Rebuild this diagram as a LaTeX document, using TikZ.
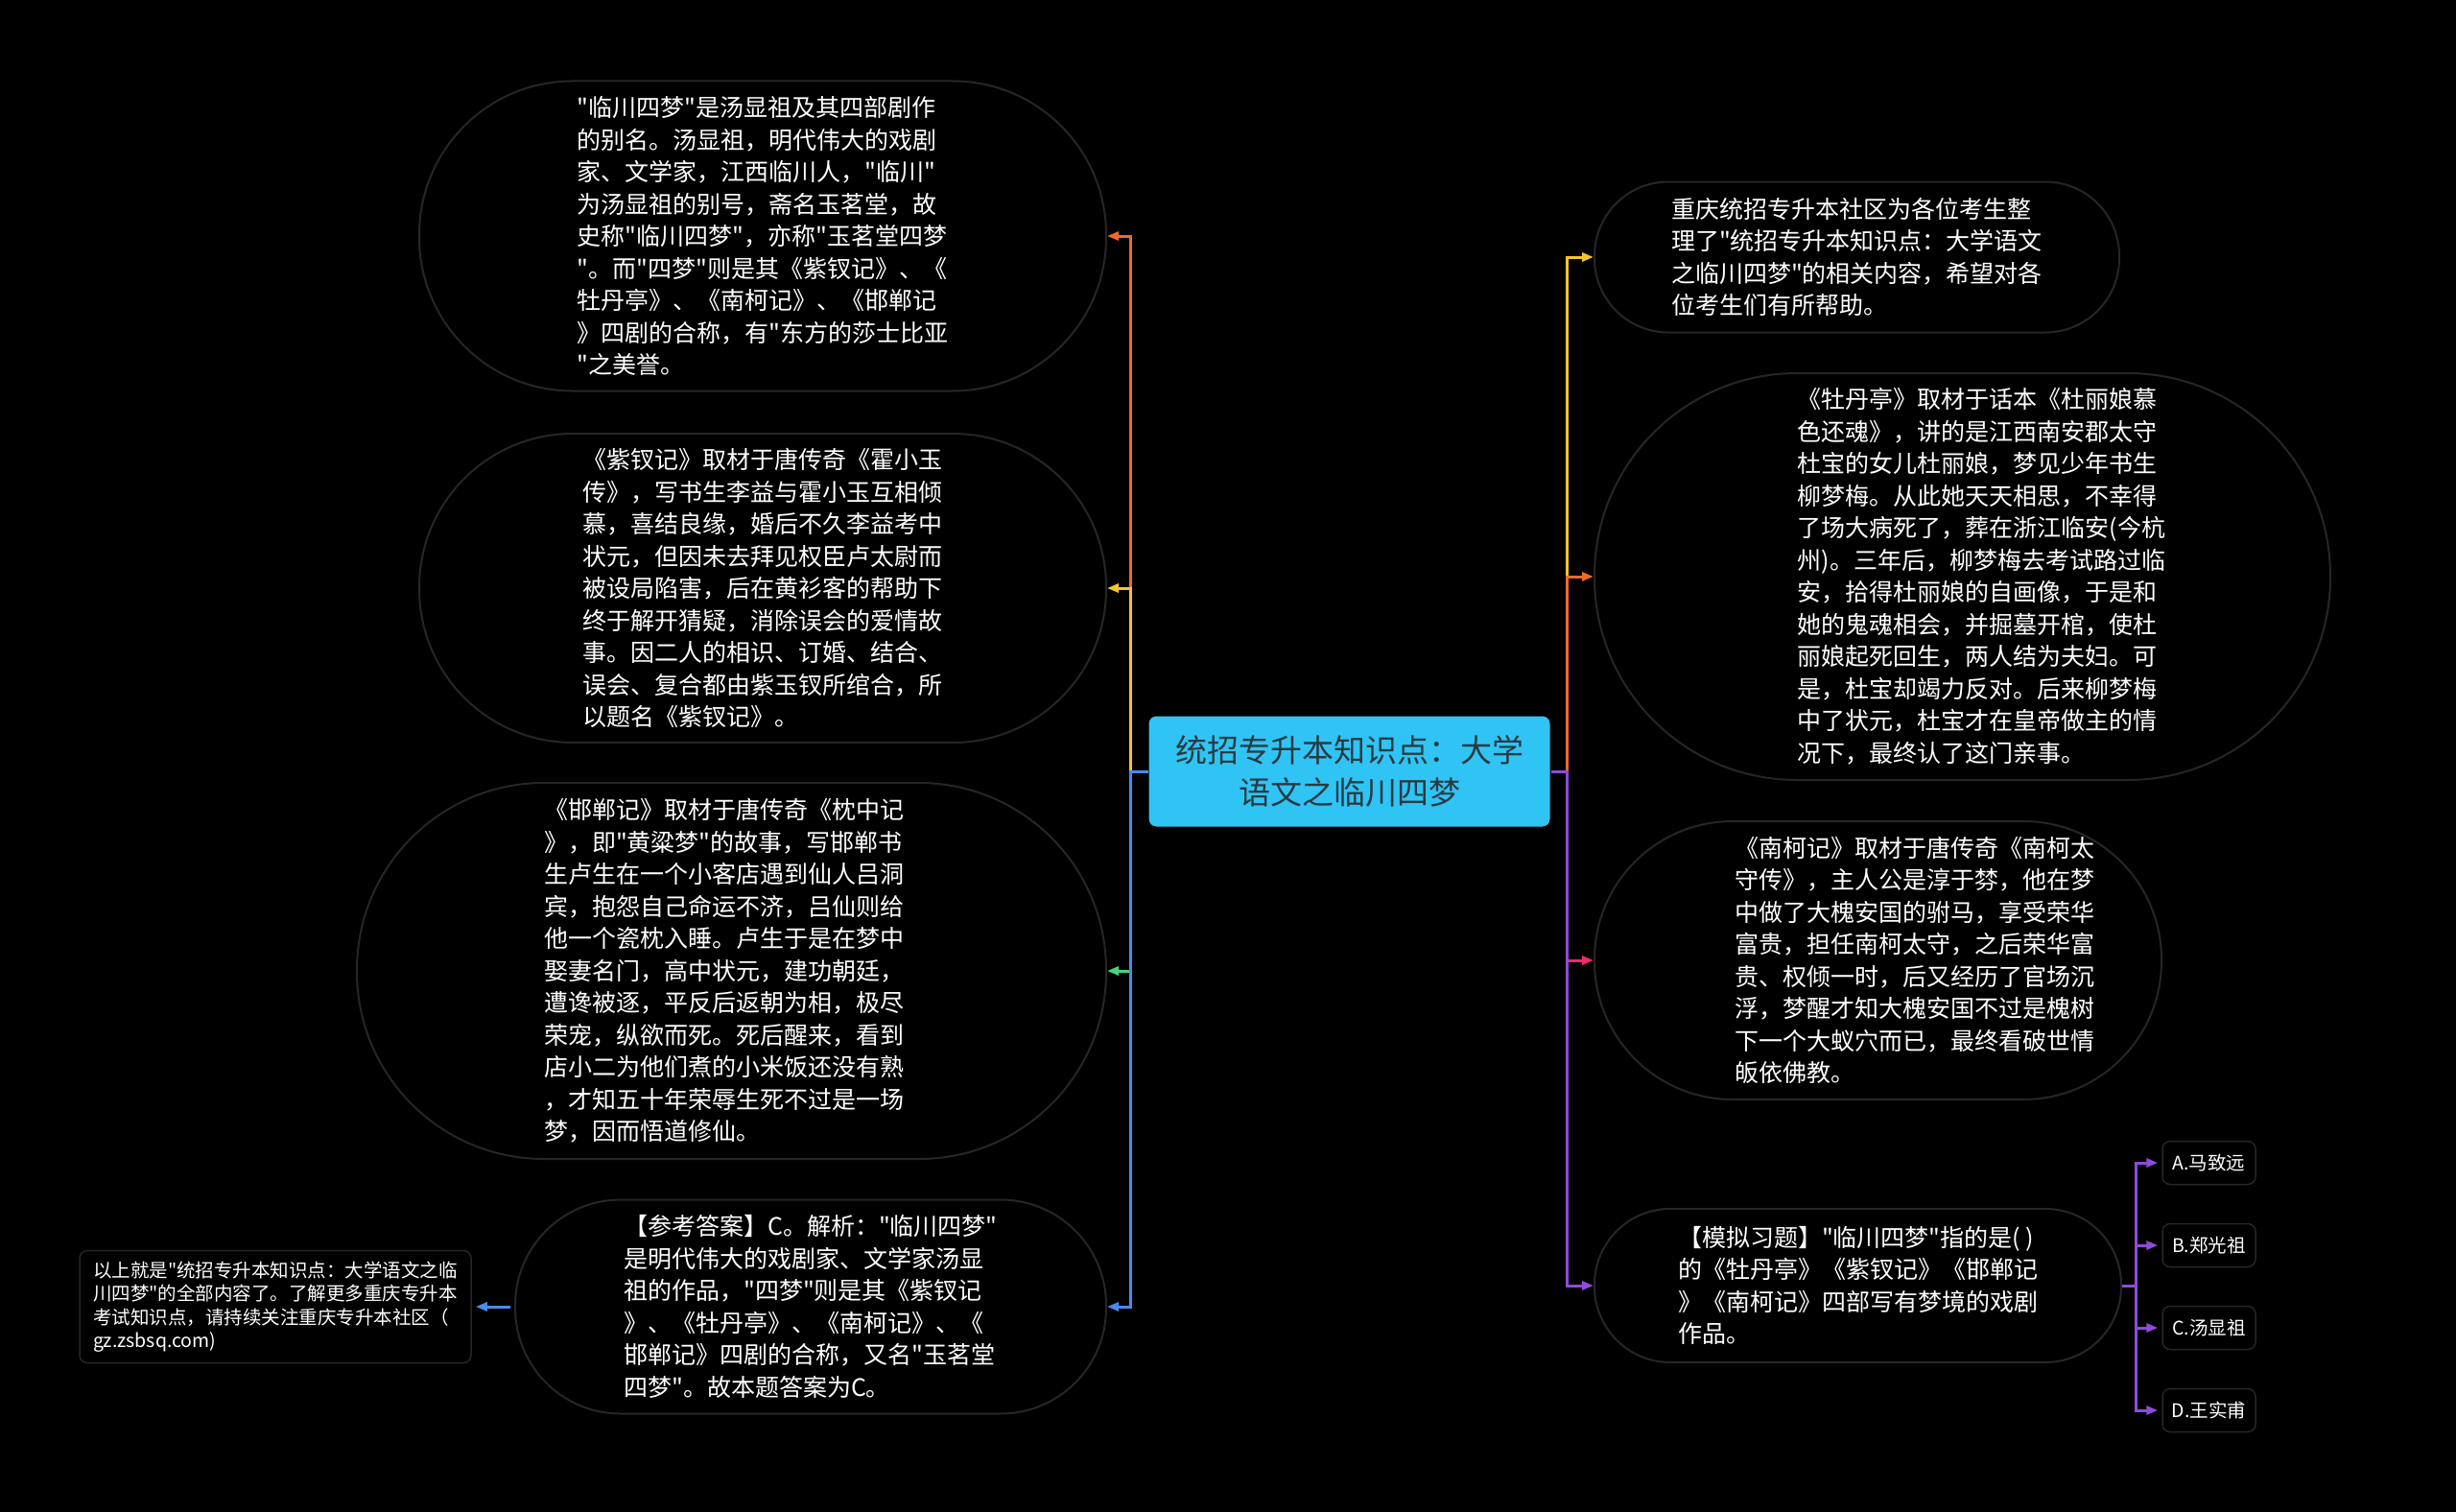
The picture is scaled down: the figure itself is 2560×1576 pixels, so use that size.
\documentclass[tikz,border=0pt]{standalone}
\usepackage{fontspec}
\setmainfont{Noto Sans CJK SC}[Ligatures=TeXOff]
\usetikzlibrary{arrows.meta}
\definecolor{cOrange}{HTML}{EC6A2C}
\definecolor{cYellow}{HTML}{F6C431}
\definecolor{cGreen}{HTML}{47D57F}
\definecolor{cBlue}{HTML}{4A8AE8}
\definecolor{cPink}{HTML}{EE2B6C}
\definecolor{cPurple}{HTML}{8E4BDD}
\definecolor{cBorder}{HTML}{262626}
\definecolor{cCenter}{HTML}{30C4F4}
\definecolor{cCenterText}{HTML}{283A42}
\tikzset{
  bubble/.style={draw=cBorder, line width=2pt, fill=black, text=white, align=left,
    font=\fontsize{25}{33.5}\selectfont, inner sep=0pt},
  bubbletext/.style={text=white, align=left, font=\fontsize{25}{33.5}\selectfont, inner sep=0pt},
  smallbox/.style={draw=cBorder, line width=1.5pt, fill=black, text=white, align=left,
    font=\fontsize{19.5}{24.5}\selectfont, inner sep=0pt, rounded corners=8pt},
  rootbox/.style={fill=cCenter, draw=black, line width=1pt, text=cCenterText, align=center,
    font=\fontsize{33}{44}\selectfont, inner sep=0pt, rounded corners=8pt,
    minimum width=419pt, minimum height=116pt},
  link/.style={line width=3pt, -{Triangle[length=12pt,width=9pt]}},
}
\begin{document}
\begin{tikzpicture}[x=1pt,y=-1pt]
\useasboundingbox (0,0) rectangle (2560,1576);
\fill[black] (0,0) rectangle (2560,1576);

% central node
\node[rootbox] (root) at (1406.5,804) {统招专升本知识点：大学\\语文之临川四梦};

% left nodes
\node[bubble, minimum width=716pt, minimum height=323pt, rounded corners=160pt] (L1) at (795,246) {%
"临川四梦"是汤显祖及其四部剧作\\%
的别名。汤显祖，明代伟大的戏剧\\%
家、文学家，江西临川人，"临川"\\%
为汤显祖的别号，斋名玉茗堂，故\\%
史称"临川四梦"，亦称"玉茗堂四梦\\%
"。而"四梦"则是其《紫钗记》、《\\%
牡丹亭》、《南柯记》、《邯郸记\\%
》四剧的合称，有"东方的莎士比亚\\%
"之美誉。};

\node[bubble, minimum width=716pt, minimum height=322pt, rounded corners=160pt] (L2) at (795,613) {%
《紫钗记》取材于唐传奇《霍小玉\\%
传》，写书生李益与霍小玉互相倾\\%
慕，喜结良缘，婚后不久李益考中\\%
状元，但因未去拜见权臣卢太尉而\\%
被设局陷害，后在黄衫客的帮助下\\%
终于解开猜疑，消除误会的爱情故\\%
事。因二人的相识、订婚、结合、\\%
误会、复合都由紫玉钗所绾合，所\\%
以题名《紫钗记》。};

\node[bubble, minimum width=781pt, minimum height=392pt, rounded corners=195pt] (L3) at (762.5,1012) {};
\node[bubbletext] (L3t) at ([xshift=-8pt]L3.center) {%
《邯郸记》取材于唐传奇《枕中记\\%
》，即"黄粱梦"的故事，写邯郸书\\%
生卢生在一个小客店遇到仙人吕洞\\%
宾，抱怨自己命运不济，吕仙则给\\%
他一个瓷枕入睡。卢生于是在梦中\\%
娶妻名门，高中状元，建功朝廷，\\%
遭谗被逐，平反后返朝为相，极尽\\%
荣宠，纵欲而死。死后醒来，看到\\%
店小二为他们煮的小米饭还没有熟\\%
，才知五十年荣辱生死不过是一场\\%
梦，因而悟道修仙。};

\node[bubble, minimum width=616pt, minimum height=223pt, rounded corners=110pt] (L4) at (845,1362) {%
【参考答案】C。解析："临川四梦"\\%
是明代伟大的戏剧家、文学家汤显\\%
祖的作品，"四梦"则是其《紫钗记\\%
》、《牡丹亭》、《南柯记》、《\\%
邯郸记》四剧的合称，又名"玉茗堂\\%
四梦"。故本题答案为C。};

\node[smallbox, minimum width=408pt, minimum height=117pt] (L5) at (287,1362) {%
以上就是"统招专升本知识点：大学语文之临\\%
川四梦"的全部内容了。了解更多重庆专升本\\%
考试知识点，请持续关注重庆专升本社区（\\%
gz.zsbsq.com)};

% right nodes
\node[bubble, minimum width=547pt, minimum height=157pt, rounded corners=77pt] (R1) at (1935.5,268) {%
重庆统招专升本社区为各位考生整\\%
理了"统招专升本知识点：大学语文\\%
之临川四梦"的相关内容，希望对各\\%
位考生们有所帮助。};

\node[bubble, minimum width=767pt, minimum height=424pt, rounded corners=211pt] (R2) at (2045.5,601) {};
\node[bubbletext] (R2t) at ([xshift=20pt]R2.center) {%
《牡丹亭》取材于话本《杜丽娘慕\\%
色还魂》，讲的是江西南安郡太守\\%
杜宝的女儿杜丽娘，梦见少年书生\\%
柳梦梅。从此她天天相思，不幸得\\%
了场大病死了，葬在浙江临安(今杭\\%
州)。三年后，柳梦梅去考试路过临\\%
安，拾得杜丽娘的自画像，于是和\\%
她的鬼魂相会，并掘墓开棺，使杜\\%
丽娘起死回生，两人结为夫妇。可\\%
是，杜宝却竭力反对。后来柳梦梅\\%
中了状元，杜宝才在皇帝做主的情\\%
况下，最终认了这门亲事。};

\node[bubble, minimum width=591pt, minimum height=290pt, rounded corners=144pt] (R3) at (1957.5,1001) {};
\node[bubbletext] (R3t) at ([xshift=38pt]R3.center) {%
《南柯记》取材于唐传奇《南柯太\\%
守传》，主人公是淳于棼，他在梦\\%
中做了大槐安国的驸马，享受荣华\\%
富贵，担任南柯太守，之后荣华富\\%
贵、权倾一时，后又经历了官场沉\\%
浮，梦醒才知大槐安国不过是槐树\\%
下一个大蚁穴而已，最终看破世情\\%
皈依佛教。};

\node[bubble, minimum width=549pt, minimum height=160pt, rounded corners=79pt] (R4) at (1936.5,1340) {%
【模拟习题】"临川四梦"指的是( )\\%
的《牡丹亭》《紫钗记》《邯郸记\\%
》《南柯记》四部写有梦境的戏剧\\%
作品。};

% options
\node[smallbox, minimum width=97pt, minimum height=45pt] (A) at (2302.5,1212) {A.马致远};
\node[smallbox, minimum width=97pt, minimum height=45pt] (B) at (2302.5,1298) {B.郑光祖};
\node[smallbox, minimum width=97pt, minimum height=45pt] (C) at (2302.5,1384) {C.汤显祖};
\node[smallbox, minimum width=97pt, minimum height=45pt] (D) at (2302.5,1470) {D.王实甫};

% left connectors
\draw[link, cOrange] (root.west) -- ++(-18,0) |- (L1.east);
\draw[link, cYellow] (root.west) -- ++(-18,0) |- (L2.east);
\draw[link, cGreen] (root.west) -- ++(-18,0) |- (L3.east);
\draw[link, cBlue] (root.west) -- ++(-18,0) |- (L4.east);
\draw[link, cBlue, shorten <=4pt, shorten >=4pt] (L4.west) -- (L5.east);

% right connectors
\draw[link, cYellow] (root.east) -- ++(17,0) |- (R1.west);
\draw[link, cOrange] (root.east) -- ++(17,0) |- (R2.west);
\draw[link, cPink] (root.east) -- ++(17,0) |- (R3.west);
\draw[link, cPurple] (root.east) -- ++(17,0) |- (R4.west);

% option connectors
\draw[link, cPurple, shorten >=4pt] (R4.east) -- ++(14,0) |- (A.west);
\draw[link, cPurple, shorten >=4pt] (R4.east) -- ++(14,0) |- (B.west);
\draw[link, cPurple, shorten >=4pt] (R4.east) -- ++(14,0) |- (C.west);
\draw[link, cPurple, shorten >=4pt] (R4.east) -- ++(14,0) |- (D.west);
\end{tikzpicture}
\end{document}
